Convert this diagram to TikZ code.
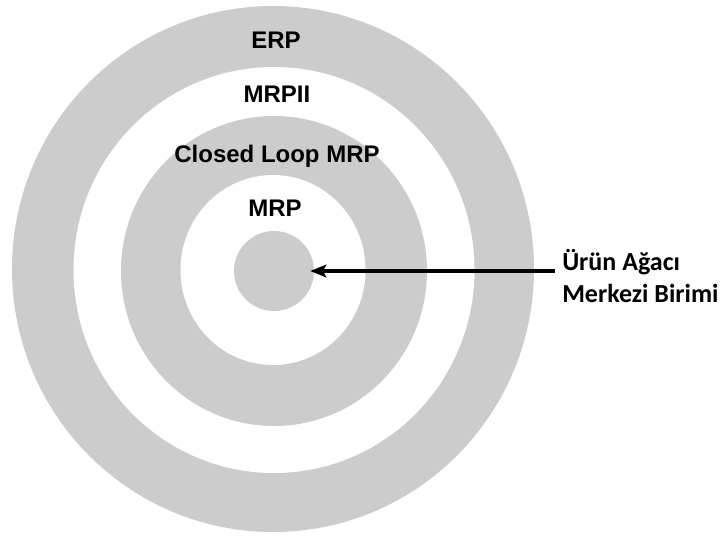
\documentclass[tikz,border=0pt]{standalone}
\usepackage{fontspec}
\setmainfont{Liberation Sans}
\newfontfamily\carlito{Carlito}
\usetikzlibrary{arrows.meta}
\definecolor{ringgray}{RGB}{204,204,204}

\begin{document}
\begin{tikzpicture}[x=0.75pt,y=-0.75pt]
\tikzstyle{every node}+=[inner sep=0pt]
\tikzstyle{ringlabel}=[anchor=base,font=\bfseries\fontsize{18}{22}\selectfont]
\tikzstyle{sidelabel}=[anchor=base west,font=\carlito\bfseries\fontsize{19.5}{24}\selectfont]
\useasboundingbox (0,0) rectangle (726,540);
\fill [ringgray] (273,269) ellipse (261 and 263);
\fill [white] (274,270) ellipse (200.5 and 203);
\fill [ringgray] (274,271) ellipse (153 and 155);
\fill [white] (273,270) ellipse (92.5 and 95);
\node [circle,fill=ringgray,minimum size=60pt] (core) at (274,271) {};
\node [ringlabel] (erp) at (276,48) {ERP};
\node [ringlabel] (mrpii) at (277,102) {MRPII};
\node [ringlabel] (closed) at (277,162.5) {Closed Loop MRP};
\node [ringlabel] (mrp) at (275,216) {MRP};
\node [sidelabel] (urun) at (562,270) {Ürün Ağacı};
\node [sidelabel] (merkez) at (562,302) {Merkezi Birimi};
\coordinate (tail) at (555,271);
\draw [black,line width=3pt,shorten >=-3pt,-{Stealth[length=12pt,width=9.5pt,inset=2.5pt]}] (tail) -- (core);
\end{tikzpicture}
\end{document}
